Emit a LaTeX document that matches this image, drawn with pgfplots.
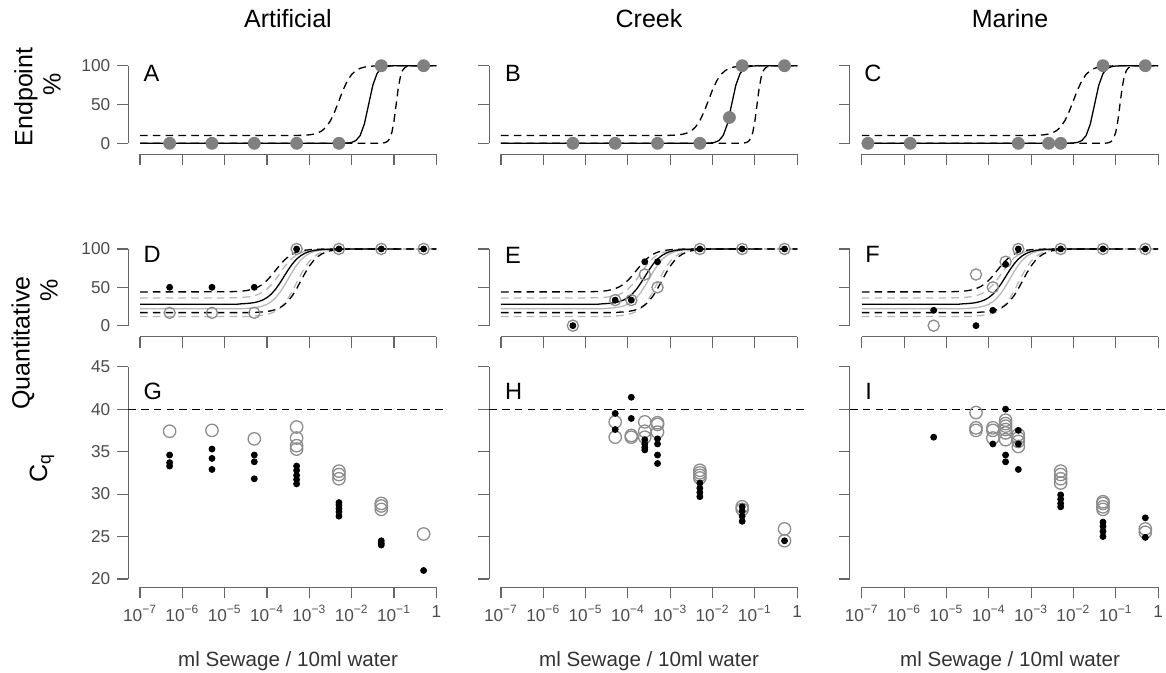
\documentclass[border=0pt]{standalone}
\usepackage{fontspec}
\setmainfont{Liberation Sans}
\usepackage{pgfplots}
\usepackage{pgfplotstable}
\pgfplotsset{compat=1.18}

\definecolor{axgray}{gray}{0.4}
\definecolor{labgray}{gray}{0.3}
\definecolor{ptgray}{gray}{0.5}
\definecolor{ringgray}{gray}{0.55}
\definecolor{cigray}{gray}{0.72}

\newcommand\labfont{\fontsize{12.5}{14}\selectfont}
\newcommand\letfont{\fontsize{11.8}{13}\selectfont}

% fitted curves for the quantitative rows (D, E, F): x, then black/gray solid, upper, lower
\pgfplotstableread{
x        bs    gs    bu    gu    bl    gl
1e-7     28.0  22.0  44.0  36.0  17.0  12.0
1e-5     28.0  22.0  44.1  36.1  17.0  12.0
1.259e-5 28.0  22.0  44.2  36.2  17.0  12.0
1.585e-5 28.0  22.0  44.4  36.3  17.0  12.0
1.995e-5 28.0  22.0  44.6  36.4  17.0  12.0
2.512e-5 28.5  22.0  45.0  36.7  17.0  12.0
3.162e-5 28.8  22.5  45.6  37.2  17.0  12.0
3.981e-5 29.3  22.9  46.7  37.9  17.0  12.0
5.012e-5 30.1  23.4  48.3  39.0  17.0  12.6
6.310e-5 31.4  24.3  50.7  40.9  17.6  13.0
7.943e-5 33.5  25.7  54.2  43.6  17.9  13.6
1e-4     36.6  27.9  59.1  47.7  18.5  14.6
1.259e-4 41.1  31.3  65.1  53.2  19.4  16.2
1.585e-4 47.4  36.2  72.0  60.2  20.9  18.7
1.995e-4 55.2  43.0  78.9  68.0  23.3  22.5
2.512e-4 64.0  51.5  84.9  75.8  26.9  28.1
3.162e-4 72.8  61.0  89.8  82.8  32.1  35.7
3.981e-4 80.6  70.6  93.3  88.3  39.3  45.2
5.012e-4 86.9  79.0  95.8  92.4  48.3  56.0
6.310e-4 91.4  85.8  97.3  95.1  58.5  66.8
7.943e-4 94.5  90.7  98.4  97.0  68.7  76.3
1e-3     96.6  94.1  99.0  98.1  77.7  84.0
1.259e-3 97.9  96.3  99.4  98.9  84.9  89.5
1.585e-3 98.7  97.7  99.6  99.3  90.1  93.3
1.995e-3 99.2  98.6  99.8  99.6  93.7  95.8
2.512e-3 99.5  99.1  99.9  99.8  96.1  97.4
3.162e-3 99.7  99.5  100   99.9  97.6  98.4
3.981e-3 99.8  99.7  100   100   98.5  99.0
5.012e-3 99.9  99.8  100   100   99.1  99.4
6.310e-3 100   99.9  100   100   99.4  99.6
7.943e-3 100   100   100   100   99.7  99.8
1e-2     100   100   100   100   99.8  99.9
1.175e-1 100   100   100   100   100   100
1        nan   nan   100   100   100   100
}\quantfit

\pgfplotsset{
  every axis/.append style={scale only axis, width=160pt, xmode=log, xmin=5.248e-8, xmax=1.905,
    axis x line*=bottom, axis y line*=left, axis line style={draw=none},
    xtick={1e-7,1e-6,1e-5,1e-4,1e-3,1e-2,1e-1,1}, xminorticks=false,
    tick align=outside, major tick length=5.5pt,
    tick style={axgray, line width=0.55pt},
    /pgf/number format/assume math mode=true,
    ticklabel style={font=\fontsize{8.6}{10}\selectfont, text=labgray},
    clip=false, anchor=south west},
  rowpct/.style={ymin=-14.4, ymax=104.4, ytick={0,50,100}},
  rowcq/.style={height=114.65pt, ymin=19, ymax=46, ytick={20,25,30,35,40,45}},
  xlab/.style={xticklabels={10\textsuperscript{−7},10\textsuperscript{−6},10\textsuperscript{−5},10\textsuperscript{−4},10\textsuperscript{−3},10\textsuperscript{−2},10\textsuperscript{−1},1}},
  noxlab/.style={xticklabel=\empty},
  noylab/.style={yticklabel=\empty},
  blk/.style={black, line width=0.65pt, no markers},
  blkd/.style={black, line width=0.65pt, no markers, dash pattern=on 3.8pt off 2.6pt},
  gry/.style={cigray, line width=0.65pt, no markers},
  gryd/.style={cigray, line width=0.65pt, no markers, dash pattern=on 3.8pt off 2.6pt},
  ep/.style={only marks, color=ptgray, mark=*, mark size=3pt},
  bd/.style={only marks, color=black, mark=*, mark size=1.5pt},
  ring/.style={only marks, mark=o, mark size=2.8pt, mark options={draw=ringgray, line width=0.65pt}},
  ringc/.style={only marks, mark=o, mark size=3.1pt, mark options={draw=ringgray, line width=0.65pt}},
}
\tikzset{axline/.style={axgray, line width=0.55pt}}

\newcommand\pctaxes{%
  \draw[axline] (axis cs:1e-7,-14.4) -- (axis cs:1,-14.4);
  \draw[axline] (axis cs:5.248e-8,0) -- (axis cs:5.248e-8,100);}
\newcommand\cqaxes{%
  \draw[axline] (axis cs:1e-7,19) -- (axis cs:1,19);
  \draw[axline] (axis cs:5.248e-8,20) -- (axis cs:5.248e-8,45);}
\newcommand\quantcurves{%
  \addplot[gryd] table[x=x,y=gu] {\quantfit};
  \addplot[gryd] table[x=x,y=gl] {\quantfit};
  \addplot[gry] table[x=x,y=gs] {\quantfit};
  \addplot[blkd] table[x=x,y=bu] {\quantfit};
  \addplot[blkd] table[x=x,y=bl] {\quantfit};
  \addplot[blk] table[x=x,y=bs] {\quantfit};}

\begin{document}
\begin{tikzpicture}
\useasboundingbox (0,0) rectangle (583pt,336.5pt);

% ---------- row 1: endpoint ----------
\begin{axis}[rowpct, height=46.1pt, noxlab, at={(64.1pt,259.25pt)}]
\pctaxes
\addplot[blkd] coordinates {(1e-7,10)(5.012e-4,10.14)(6.310e-4,10.26)(7.943e-4,10.49)(1e-3,10.94)(1.259e-3,11.78)(1.585e-3,13.36)(1.995e-3,16.22)(2.512e-3,21.2)(3.162e-3,29.3)(3.981e-3,40.9)(5.012e-3,55)(6.310e-3,69.1)(7.943e-3,80.7)(1e-2,88.8)(1.259e-2,93.8)(1.585e-2,96.6)(1.995e-2,98.2)(2.512e-2,99.1)(3.162e-2,99.5)(3.981e-2,99.7)(5.012e-2,99.9)(1,100)};
\addplot[blkd] coordinates {(1e-7,0)(5.012e-2,0.18)(5.623e-2,0.45)(6.310e-2,1.1)(7.079e-2,2.66)(7.943e-2,6.3)(8.913e-2,14.2)(1e-1,28.9)(1.122e-1,50)(1.259e-1,71.1)(1.413e-1,85.8)(1.585e-1,93.7)(1.778e-1,97.3)(1.995e-1,98.9)(2.239e-1,99.55)(2.512e-1,99.82)(1,100)};
\addplot[blk] coordinates {(1e-7,0)(6.310e-3,0.14)(7.943e-3,0.41)(1e-2,1.21)(1.259e-2,3.56)(1.585e-2,9.98)(1.995e-2,24.97)(2.512e-2,50)(3.162e-2,75.03)(3.981e-2,90.02)(5.012e-2,96.44)(6.310e-2,98.79)(7.943e-2,99.59)(1e-1,99.86)(1,100)};
\addplot[ep] coordinates {(5e-7,0)(5e-6,0)(5e-5,0)(5e-4,0)(5e-3,0)(5e-2,100)(5e-1,100)};
\end{axis}

\begin{axis}[rowpct, height=46.1pt, noxlab, noylab, at={(244.55pt,259.25pt)}]
\pctaxes
\addplot[blkd] coordinates {(1e-7,10)(7.943e-4,10.14)(1e-3,10.26)(1.259e-3,10.49)(1.585e-3,10.94)(1.995e-3,11.78)(2.512e-3,13.36)(3.162e-3,16.22)(3.981e-3,21.2)(5.012e-3,29.3)(6.310e-3,40.9)(7.943e-3,55)(1e-2,69.1)(1.259e-2,80.7)(1.585e-2,88.8)(1.995e-2,93.8)(2.512e-2,96.6)(3.162e-2,98.2)(3.981e-2,99.1)(5.012e-2,99.5)(6.310e-2,99.7)(7.943e-2,99.9)(1,100)};
\addplot[blkd] coordinates {(1e-7,0)(5.012e-2,0.18)(5.623e-2,0.45)(6.310e-2,1.1)(7.079e-2,2.66)(7.943e-2,6.3)(8.913e-2,14.2)(1e-1,28.9)(1.122e-1,50)(1.259e-1,71.1)(1.413e-1,85.8)(1.585e-1,93.7)(1.778e-1,97.3)(1.995e-1,98.9)(2.239e-1,99.55)(2.512e-1,99.82)(1,100)};
\addplot[blk] coordinates {(1e-7,0)(7.079e-3,0.14)(8.913e-3,0.41)(1.122e-2,1.21)(1.413e-2,3.56)(1.778e-2,9.98)(2.239e-2,24.97)(2.818e-2,50)(3.548e-2,75.03)(4.467e-2,90.02)(5.623e-2,96.44)(7.079e-2,98.79)(8.913e-2,99.59)(1.122e-1,99.86)(1,100)};
\addplot[ep] coordinates {(5e-6,0)(5e-5,0)(5e-4,0)(5e-3,0)(2.5e-2,33.3)(5e-2,100)(5e-1,100)};
\end{axis}

\begin{axis}[rowpct, height=46.1pt, noxlab, noylab, at={(424.95pt,259.25pt)}]
\pctaxes
\addplot[blkd] coordinates {(1e-7,10)(1e-3,10.14)(1.259e-3,10.26)(1.585e-3,10.49)(1.995e-3,10.94)(2.512e-3,11.78)(3.162e-3,13.36)(3.981e-3,16.22)(5.012e-3,21.2)(6.310e-3,29.3)(7.943e-3,40.9)(1e-2,55)(1.259e-2,69.1)(1.585e-2,80.7)(1.995e-2,88.8)(2.512e-2,93.8)(3.162e-2,96.6)(3.981e-2,98.2)(5.012e-2,99.1)(6.310e-2,99.5)(7.943e-2,99.7)(1e-1,99.9)(1,100)};
\addplot[blkd] coordinates {(1e-7,0)(5.623e-2,0.18)(6.310e-2,0.45)(7.079e-2,1.1)(7.943e-2,2.66)(8.913e-2,6.3)(1e-1,14.2)(1.122e-1,28.9)(1.259e-1,50)(1.413e-1,71.1)(1.585e-1,85.8)(1.778e-1,93.7)(1.995e-1,97.3)(2.239e-1,98.9)(2.512e-1,99.55)(2.818e-1,99.82)(1,100)};
\addplot[blk] coordinates {(1e-7,0)(7.943e-3,0.14)(1e-2,0.41)(1.259e-2,1.21)(1.585e-2,3.56)(1.995e-2,9.98)(2.512e-2,24.97)(3.162e-2,50)(3.981e-2,75.03)(5.012e-2,90.02)(6.310e-2,96.44)(7.943e-2,98.79)(1e-1,99.59)(1.259e-1,99.86)(1,100)};
\addplot[ep] coordinates {(1.4e-7,0)(1.4e-6,0)(5e-4,0)(2.6e-3,0)(5e-3,0)(5e-2,100)(5e-1,100)};
\end{axis}

% ---------- row 2: quantitative ----------
\begin{axis}[rowpct, height=45.55pt, noxlab, at={(64.1pt,168.15pt)}]
\pctaxes
\quantcurves
\addplot[ring] coordinates {(5e-7,16.7)(5e-6,16.7)(5e-5,16.7)(5e-4,100)(5e-3,100)(5e-2,100)(5e-1,100)};
\addplot[bd] coordinates {(5e-7,50)(5e-6,50)(5e-5,50)(5e-4,100)(5e-3,100)(5e-2,100)(5e-1,100)};
\end{axis}

\begin{axis}[rowpct, height=45.55pt, noxlab, noylab, at={(244.55pt,168.15pt)}]
\pctaxes
\quantcurves
\addplot[ring] coordinates {(5e-6,0)(5e-5,33.3)(1.2e-4,33.3)(2.5e-4,66.7)(5e-4,50)(5e-3,100)(5e-2,100)(5e-1,100)};
\addplot[bd] coordinates {(5e-6,0)(5e-5,33.3)(1.2e-4,33.3)(2.5e-4,83.3)(5e-4,83.3)(5e-3,100)(5e-2,100)(5e-1,100)};
\end{axis}

\begin{axis}[rowpct, height=45.55pt, noxlab, noylab, at={(424.95pt,168.15pt)}]
\pctaxes
\quantcurves
\addplot[ring] coordinates {(5e-6,0)(5e-5,66.7)(1.25e-4,50)(2.5e-4,83.3)(5e-4,100)(5e-3,100)(5e-2,100)(5e-1,100)};
\addplot[bd] coordinates {(5e-6,20)(5e-5,0)(1.25e-4,20)(2.5e-4,80)(5e-4,100)(5e-3,100)(5e-2,100)(5e-1,100)};
\end{axis}

% ---------- row 3: Cq ----------
\begin{axis}[rowcq, xlab, at={(64.1pt,42.75pt)}]
\cqaxes
\addplot[blkd] coordinates {(5.248e-8,40)(1.905,40)};
\addplot[ringc] coordinates {(5e-7,37.4)(5e-6,37.5)(5e-5,36.5)(5e-4,37.9)(5e-4,36.6)(5e-4,35.7)(5e-4,35.3)(5e-3,32.7)(5e-3,32.3)(5e-3,31.8)(5e-2,28.9)(5e-2,28.6)(5e-2,28.2)(5e-1,25.3)};
\addplot[bd] coordinates {(5e-7,34.6)(5e-7,33.7)(5e-7,33.3)(5e-6,35.3)(5e-6,34.2)(5e-6,32.9)(5e-5,34.6)(5e-5,33.8)(5e-5,31.8)(5e-4,33.3)(5e-4,32.8)(5e-4,32.2)(5e-4,31.7)(5e-4,31.2)(5e-3,29.0)(5e-3,28.7)(5e-3,28.3)(5e-3,27.9)(5e-3,27.4)(5e-2,24.5)(5e-2,24.2)(5e-2,24.0)(5e-1,21.0)};
\end{axis}

\begin{axis}[rowcq, xlab, noylab, at={(244.55pt,42.75pt)}]
\cqaxes
\addplot[blkd] coordinates {(5.248e-8,40)(1.905,40)};
\addplot[ringc] coordinates {(5e-5,38.5)(5e-5,36.7)(1.2e-4,36.9)(1.2e-4,36.7)(2.5e-4,38.5)(2.5e-4,37.4)(2.5e-4,36.7)(5e-4,38.4)(5e-4,38.2)(5e-4,37.3)(5e-3,32.8)(5e-3,32.5)(5e-3,32.2)(5e-3,31.9)(5e-2,28.5)(5e-2,28.2)(5e-1,25.9)(5e-1,24.5)};
\addplot[bd] coordinates {(5e-5,39.5)(5e-5,37.6)(1.2e-4,41.4)(1.2e-4,38.9)(2.5e-4,36.4)(2.5e-4,35.9)(2.5e-4,35.5)(2.5e-4,35.2)(5e-4,36.5)(5e-4,35.9)(5e-4,34.6)(5e-4,33.6)(5e-3,31.3)(5e-3,30.7)(5e-3,30.2)(5e-3,29.7)(5e-2,28.5)(5e-2,28.0)(5e-2,27.4)(5e-2,26.8)(5e-1,24.5)};
\end{axis}

\begin{axis}[rowcq, xlab, noylab, at={(424.95pt,42.75pt)}]
\cqaxes
\addplot[blkd] coordinates {(5.248e-8,40)(1.905,40)};
\addplot[ringc] coordinates {(5e-5,39.6)(5e-5,37.8)(5e-5,37.5)(1.25e-4,37.8)(1.25e-4,37.5)(1.25e-4,36.6)(2.5e-4,38.7)(2.5e-4,38.3)(2.5e-4,38.0)(2.5e-4,37.6)(2.5e-4,37.2)(2.5e-4,36.4)(5e-4,37.0)(5e-4,36.6)(5e-4,36.2)(5e-4,35.6)(5e-3,32.7)(5e-3,32.3)(5e-3,31.8)(5e-3,31.3)(5e-2,29.1)(5e-2,28.9)(5e-2,28.5)(5e-2,28.2)(5e-1,25.9)(5e-1,25.5)};
\addplot[bd] coordinates {(5e-6,36.7)(1.25e-4,35.9)(2.5e-4,40.0)(2.5e-4,34.6)(2.5e-4,33.8)(5e-4,37.5)(5e-4,35.9)(5e-4,32.9)(5e-3,29.9)(5e-3,29.4)(5e-3,28.9)(5e-3,28.5)(5e-2,26.7)(5e-2,26.2)(5e-2,25.6)(5e-2,25.0)(5e-1,27.2)(5e-1,24.9)};
\end{axis}

% ---------- titles, labels, panel letters ----------
\node[font=\labfont, anchor=base] at (144pt,322.75pt) {Artificial};
\node[font=\labfont, anchor=base] at (324.5pt,322.75pt) {Creek};
\node[font=\labfont, anchor=base] at (505pt,322.75pt) {Marine};

\foreach \cx in {144,324.5,505}
  \node[font=\fontsize{10.3}{12}\selectfont, text=black!80, anchor=base] at (\cx pt,3.15pt) {ml Sewage / 10ml water};

\node[rotate=90, font=\labfont] at (13pt,288pt) {Endpoint};
\node[rotate=90, font=\labfont] at (26pt,294.25pt) {\%};
\node[rotate=90, font=\labfont] at (11.5pt,165pt) {Quantitative};
\node[rotate=90, font=\labfont] at (24.5pt,191.5pt) {\%};
\node[rotate=90, font=\labfont] at (21pt,102.5pt) {C\textsubscript{q}};

\node[font=\letfont, anchor=base west, inner sep=0pt] at (71.6pt,295.5pt) {A};
\node[font=\letfont, anchor=base west, inner sep=0pt] at (252.3pt,295.6pt) {B};
\node[font=\letfont, anchor=base west, inner sep=0pt] at (432pt,295.6pt) {C};
\node[font=\letfont, anchor=base west, inner sep=0pt] at (71.6pt,205pt) {D};
\node[font=\letfont, anchor=base west, inner sep=0pt] at (252.3pt,204.8pt) {E};
\node[font=\letfont, anchor=base west, inner sep=0pt] at (432.5pt,205pt) {F};
\node[font=\letfont, anchor=base west, inner sep=0pt] at (71.6pt,136.9pt) {G};
\node[font=\letfont, anchor=base west, inner sep=0pt] at (252.3pt,136.9pt) {H};
\node[font=\letfont, anchor=base west, inner sep=0pt] at (432.5pt,136.9pt) {I};
\end{tikzpicture}
\end{document}
